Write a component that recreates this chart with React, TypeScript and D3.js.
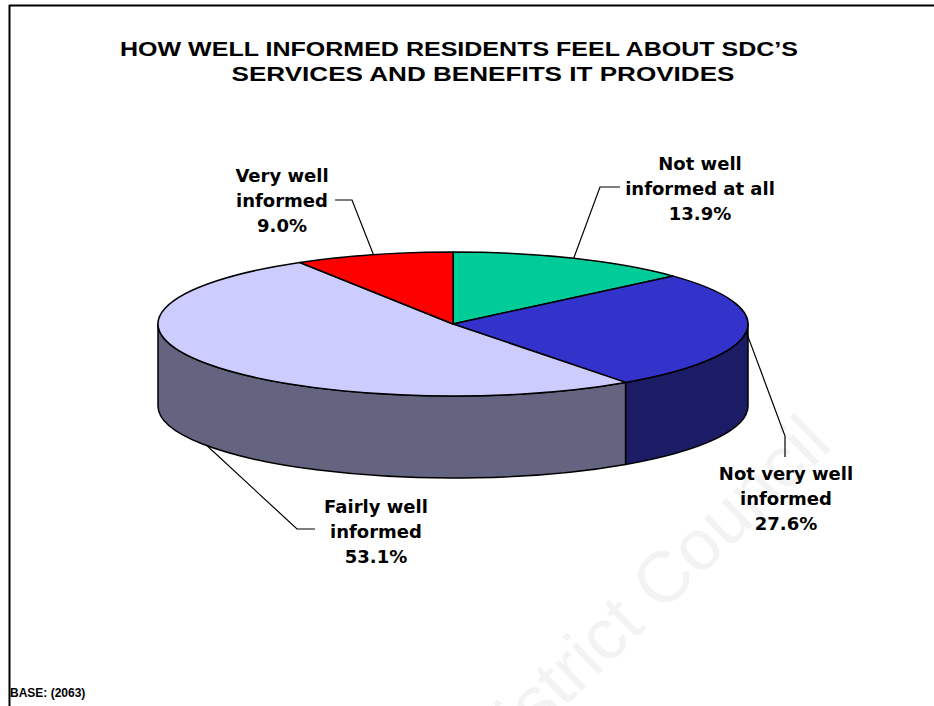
import React from 'react';
import * as d3 from 'd3';

// ---- data ----
const categories = ['Not well informed at all', 'Not very well informed', 'Fairly well informed', 'Very well informed'];
const values = [13.9, 27.6, 53.1, 9.0];
const labelLines = [
  ['Not well', 'informed at all', '13.9%'],
  ['Not very well', 'informed', '27.6%'],
  ['Fairly well', 'informed', '53.1%'],
  ['Very well', 'informed', '9.0%'],
];
const titleLines = ["HOW WELL INFORMED RESIDENTS FEEL ABOUT SDC\u2019S", 'SERVICES AND BENEFITS IT PROVIDES'];
const baseNote = 'BASE: (2063)';
const watermark = 'District Council';

// ---- styles / layout ----
const topColors = ['#00CC99', '#3333CC', '#CCCCFF', '#FF0000'];
const sideColors = ['#006650', '#1C1C66', '#646480', '#800000'];
// label center x, first baseline y, leader elbow, leader end (at text)
const labelLayout = [
  { x: 700, y: 170, elbow: [600, 187], end: [620, 187] },
  { x: 786, y: 480, elbow: [785, 436], end: [785, 457] },
  { x: 376, y: 513, elbow: [297, 529], end: [315, 529] },
  { x: 282, y: 182, elbow: [352, 200], end: [335, 200] },
];

const W = 934, H = 706;
const cx = 453, cy = 324, rx = 295, ry = 72, depth = 82;

function P(a: number, dy = 0): [number, number] {
  return [cx + rx * Math.sin(a), cy - ry * Math.cos(a) + dy];
}

export default function App() {
  const pie = d3.pie<number>().sort(null).value((d) => d).startAngle(0).endAngle(2 * Math.PI);
  const arcs = pie(values);

  const topPath = (a0: number, a1: number) => {
    const p0 = P(a0), p1 = P(a1);
    const large = a1 - a0 > Math.PI ? 1 : 0;
    return `M${cx},${cy}L${p0[0]},${p0[1]}A${rx},${ry} 0 ${large} 1 ${p1[0]},${p1[1]}Z`;
  };
  const wallPath = (a0: number, a1: number) => {
    const s = Math.max(a0, Math.PI / 2), e = Math.min(a1, (3 * Math.PI) / 2);
    if (e <= s) return null;
    const p0 = P(s), p1 = P(e), q1 = P(e, depth), q0 = P(s, depth);
    return `M${p0[0]},${p0[1]}A${rx},${ry} 0 0 1 ${p1[0]},${p1[1]}L${q1[0]},${q1[1]}A${rx},${ry} 0 0 0 ${q0[0]},${q0[1]}Z`;
  };

  const labelFont = { fontFamily: '"DejaVu Sans", Verdana, sans-serif', fontWeight: 700, fontSize: 18 } as const;

  return (
    <svg width={W} height={H} style={{ position: 'absolute', left: 0, top: 0, background: '#fff' }}>
      <rect x={0} y={0} width={W} height={H} fill="#fff" />
      {/* watermark */}
      <text
        transform="translate(834,447) rotate(-44)"
        textAnchor="end"
        fill="#f3f3f3"
        style={{ fontFamily: '"Liberation Sans", Arial, sans-serif', fontSize: 72 }}
      >
        {watermark}
      </text>
      {/* border */}
      <line x1={9.5} y1={5} x2={9.5} y2={H} stroke="#000" strokeWidth={2} />
      <line x1={9} y1={5.5} x2={W} y2={5.5} stroke="#000" strokeWidth={2} />
      {/* title */}
      <g style={{ fontFamily: '"Liberation Sans", Arial, sans-serif', fontWeight: 700, fontSize: 21 }} fill="#000">
        <text x={459} y={56} textAnchor="middle" textLength={678} lengthAdjust="spacingAndGlyphs">{titleLines[0]}</text>
        <text x={483} y={81} textAnchor="middle" textLength={503} lengthAdjust="spacingAndGlyphs">{titleLines[1]}</text>
      </g>
      {/* walls and tops */}
      <g stroke="#000" strokeWidth={1.5} strokeLinejoin="round">
        {arcs.map((a, i) => {
          const d = wallPath(a.startAngle, a.endAngle);
          return d ? <path key={'w' + i} d={d} fill={sideColors[i]} /> : null;
        })}
        {arcs.map((a, i) => (
          <path key={'t' + i} d={topPath(a.startAngle, a.endAngle)} fill={topColors[i]} />
        ))}
      </g>
      {/* leaders */}
      <g stroke="#000" strokeWidth={1.2} fill="none">
        {arcs.map((a, i) => {
          const mid = (a.startAngle + a.endAngle) / 2;
          const front = Math.cos(mid) < -0.3;
          const anchor = P(mid, front ? depth : 0);
          const L = labelLayout[i];
          return (
            <polyline
              key={'l' + i}
              points={`${anchor[0]},${anchor[1]} ${L.elbow[0]},${L.elbow[1]} ${L.end[0]},${L.end[1]}`}
            />
          );
        })}
      </g>
      {/* labels */}
      <g style={labelFont} fill="#000">
        {labelLines.map((lines, i) => (
          <text key={'lab' + i} textAnchor="middle" aria-label={categories[i]}>
            {lines.map((ln, j) => (
              <tspan key={j} x={labelLayout[i].x} y={labelLayout[i].y + j * 25}>{ln}</tspan>
            ))}
          </text>
        ))}
      </g>
      <text x={10} y={697} style={{ fontFamily: '"Liberation Sans", Arial, sans-serif', fontWeight: 700, fontSize: 12 }}>
        {baseNote}
      </text>
    </svg>
  );
}
